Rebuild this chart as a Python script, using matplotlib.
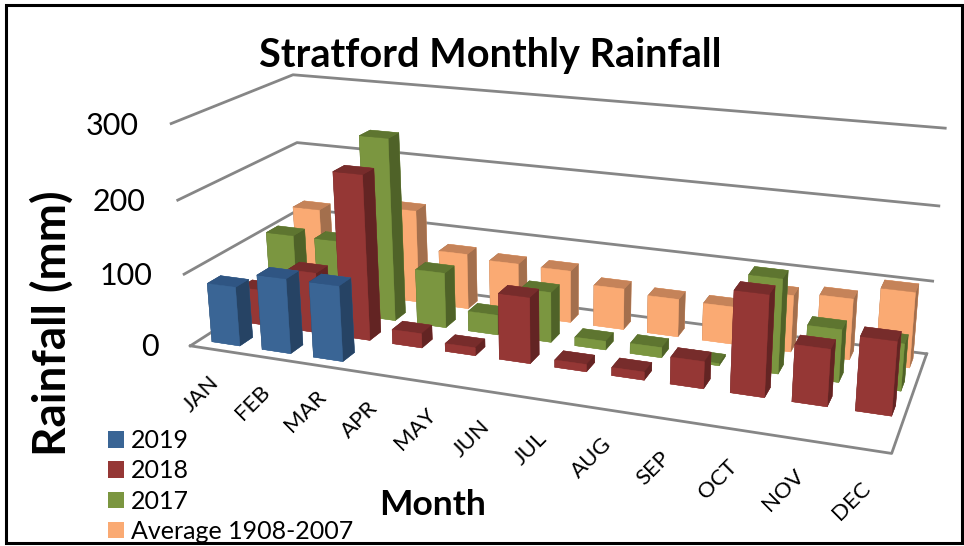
import matplotlib
matplotlib.use("Agg")
import matplotlib.pyplot as plt
from matplotlib.patches import Patch, Rectangle
from mpl_toolkits.mplot3d import proj3d

plt.rcParams['font.family'] = ['Lato', 'DejaVu Sans']

months = ["JAN", "FEB", "MAR", "APR", "MAY", "JUN", "JUL", "AUG", "SEP", "OCT", "NOV", "DEC"]
rain_2019 = [82, 103, 103]
rain_2018 = [50, 85, 228, 20, 11, 90, 10, 11, 36, 133, 74, 95]
rain_2017 = [105, 105, 257, 78, 28, 70, 12, 14, 3, 127, 70, 62]
rain_avg = [120, 100, 135, 80, 75, 74, 58, 53, 52, 78, 83, 102]
series_names = ["2019", "2018", "2017", "Average 1908-2007"]
y_ticks = [0, 100, 200, 300]

# front, top, right side of each series
shades = [("#3A6595", "#2F5583", "#264364"),
          ("#953735", "#772C2B", "#632423"),
          ("#7B9640", "#5E7530", "#4F6228"),
          ("#FAAA73", "#C58359", "#A36F4D")]
all_series = [rain_2019, rain_2018, rain_2017, rain_avg]

W, H = 964, 546
fig = plt.figure(figsize=(W / 100, H / 100), dpi=100)

# camera and box were fitted to the wall corners of the original
scale, cx, cy = 4151.639, 555.208, 305.383
side = scale * 0.185
ax = fig.add_axes([(cx - scale * 0.095) / W, (cy - scale * 0.095) / H, side / W, side / H], projection='3d')
ax.set_axis_off()
ax.patch.set_alpha(0)
ax.computed_zorder = False
ax.set_xlim(0, 12, view_margin=0)
ax.set_ylim(0, 4, view_margin=0)
ax.set_zlim(0, 300, view_margin=0)
ax.view_init(elev=18.5536, azim=-69.598, roll=0.1518)
ax.set_proj_type('persp', focal_length=0.3627)
ax.set_box_aspect((1, 0.3327, 0.3295))


def to_pixels(x, y, z):
    tx, ty, _ = proj3d.proj_transform(x, y, z, ax.get_proj())
    return ax.transData.transform((tx, ty))


for z in y_ticks:
    ax.plot([0, 0, 12], [0, 4, 4], [z, z, z], color='#868686', lw=2, zorder=0, clip_on=False)
ax.plot([0, 12, 12], [0, 0, 4], [0, 0, 0], color='#868686', lw=2, zorder=0, clip_on=False)

# back row first, left to right
order = 1
for s in [3, 2, 1, 0]:
    front, top, right = shades[s]
    # bottom, top, front, back, left, right
    face_cols = [front, top, front, front, right, right]
    for m, val in enumerate(all_series[s]):
        bar = ax.bar3d(m + 0.25, s + 0.29, 0, 0.56, 0.42, val, color=face_cols, shade=False,
                       edgecolor=face_cols, linewidth=0.3, zorder=order)
        bar.set_clip_on(False)
        order += 1

for m, name in enumerate(months):
    px, py = to_pixels(m + 0.55, -0.6, -43)
    fig.text(px, py, name, transform=None, rotation=45, ha='center', va='center', fontsize=16, color='black')
for z in y_ticks:
    px, py = to_pixels(-0.65, 0, z - 8)
    fig.text(px, py, str(z), transform=None, ha='right', va='center', fontsize=22, color='black')

fig.text(490 / W, 1 - 55 / H, "Stratford Monthly Rainfall", ha='center', va='center', fontsize=28.5, fontweight='bold')
fig.text(52 / W, 1 - 323 / H, "Rainfall (mm)", ha='center', va='center', rotation=90, fontsize=33, fontweight='bold')
fig.text(433 / W, 1 - 505 / H, "Month", ha='center', va='center', fontsize=25.5, fontweight='bold')

handles = [Patch(facecolor=shades[i][0], edgecolor='none') for i in range(4)]
fig.legend(handles, series_names, loc='lower left', bbox_to_anchor=(108 / W, 3 / H), frameon=False,
           fontsize=18, handlelength=0.64, handleheight=0.64, handletextpad=0.28, labelspacing=0.29,
           borderpad=0, borderaxespad=0)

fig.add_artist(Rectangle((6 / W, 3 / H), 956 / W, 538 / H, transform=fig.transFigure, fill=False,
                         edgecolor='black', linewidth=2.2))
fig.savefig("out.png", dpi=100)
